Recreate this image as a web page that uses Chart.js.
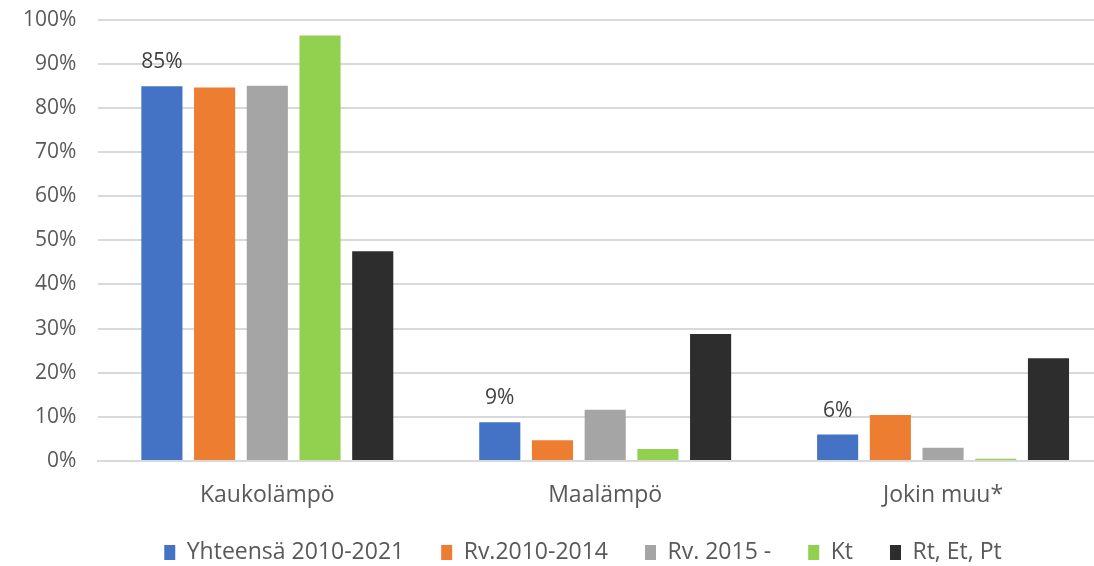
<!DOCTYPE html>
<html>
<head>
<meta charset="utf-8">
<script src="https://cdn.jsdelivr.net/npm/chart.js@4/dist/chart.umd.min.js"></script>
<style>
  html, body { margin: 0; padding: 0; background: #fff; overflow: hidden; }
  #wrap { width: 1112px; height: 566px; position: relative; }
</style>
</head>
<body>
<div id="wrap"><canvas id="chart"></canvas></div>
<script>
const categories = ['Kaukolämpö', 'Maalämpö', 'Jokin muu*'];
const seriesNames = ['Yhteensä 2010-2021', 'Rv.2010-2014', 'Rv. 2015 -', 'Kt', 'Rt, Et, Pt'];
const yhteensa = [84.9, 8.8, 6.0];
const rv2010 = [84.6, 4.7, 10.4];
const rv2015 = [85.0, 11.6, 3.0];
const kt = [96.4, 2.7, 0.5];
const rtEtPt = [47.5, 28.8, 23.3];
const yTicks = [0, 10, 20, 30, 40, 50, 60, 70, 80, 90, 100];

const COLORS = ['#4472c4', '#ed7d31', '#a5a5a5', '#92d050', '#2d2d2d'];
const allSeries = [yhteensa, rv2010, rv2015, kt, rtEtPt];

// labels only over the first series
const blueLabels = {
  id: 'blueLabels',
  afterDatasetsDraw(chart) {
    const ctx = chart.ctx;
    const meta = chart.getDatasetMeta(0);
    ctx.save();
    ctx.font = '21px "Open Sans"';
    ctx.fillStyle = '#404040';
    ctx.textAlign = 'center';
    ctx.textBaseline = 'middle';
    meta.data.forEach((bar, i) => {
      ctx.fillText(Math.round(yhteensa[i]) + '%', bar.x, bar.y - 24);
    });
    ctx.restore();
  }
};

// keep the legend's wide item spacing but fix its height and place it
const legendTweak = {
  id: 'legendTweak',
  beforeInit(chart) {
    const fit = chart.legend.fit;
    chart.legend.fit = function () {
      fit.bind(chart.legend)();
      this.height = 50;
    };
  },
  afterLayout(chart) {
    const lg = chart.legend;
    lg.left += 19;
    lg.right += 19;
    lg.top -= 12;
  }
};

new Chart(document.getElementById('chart'), {
  type: 'bar',
  data: {
    labels: categories,
    datasets: allSeries.map((d, i) => ({
      label: seriesNames[i],
      data: d,
      backgroundColor: COLORS[i],
      borderWidth: 0,
      categoryPercentage: 0.78,
      barPercentage: 0.78
    }))
  },
  options: {
    responsive: true,
    maintainAspectRatio: false,
    animation: false,
    layout: { padding: { top: 0, right: 0, left: 16, bottom: 0 } },
    scales: {
      x: {
        grid: { display: false },
        border: { color: '#d9d9d9', width: 2 },
        ticks: { color: '#595959', font: { family: '"Open Sans"', size: 23 }, padding: 13 },
        afterFit(axis) { axis.height = 55; }
      },
      y: {
        min: 0,
        max: 100,
        afterBuildTicks(axis) { axis.ticks = yTicks.map(v => ({ value: v })); },
        grid: { color: '#d9d9d9', lineWidth: 2, drawTicks: true, tickLength: 15, tickColor: 'rgba(0,0,0,0)' },
        border: { display: false },
        ticks: {
          color: '#595959',
          font: { family: '"Open Sans"', size: 21 },
          padding: 7,
          callback: v => v + '%'
        }
      }
    },
    plugins: {
      legend: {
        position: 'bottom',
        labels: {
          color: '#595959',
          font: { family: '"Open Sans"', size: 23 },
          boxWidth: 11,
          boxHeight: 15,
          padding: 37,
          useBorderRadius: false
        }
      },
      tooltip: { enabled: false }
    }
  },
  plugins: [blueLabels, legendTweak]
});
</script>
</body>
</html>
